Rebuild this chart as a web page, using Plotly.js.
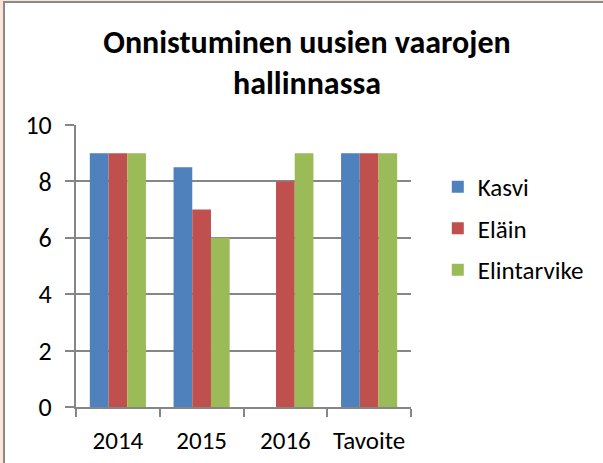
<!DOCTYPE html>
<html>
<head>
<meta charset="utf-8">
<script src="https://cdn.plot.ly/plotly-3.0.1.min.js"></script>
<style>
  html, body { margin: 0; padding: 0; background: #fce4d6; width: 603px; height: 463px; overflow: hidden; }
  #chart { position: absolute; left: 3px; top: 1px; width: 598px; height: 460px;
           border-left: 2px solid #8a8a8a; border-top: 2px solid #8a8a8a; background: #fff; }
</style>
</head>
<body>
<div id="chart"></div>
<script>
const categories = ["2014", "2015", "2016", "Tavoite"];
const kasvi = [9, 8.5, null, 9];
const elain = [9, 7, 8, 9];
const elintarvike = [9, 6, 9, 9];
const seriesNames = ["Kasvi", "Eläin", "Elintarvike"];
const colors = ["#4F81BD", "#C0504D", "#9BBB59"];
const yTicks = [0, 2, 4, 6, 8, 10];

const FONT = "Carlito, Lato, 'Open Sans', sans-serif";
const seriesData = [kasvi, elain, elintarvike];
const traces = seriesData.map((vals, i) => ({
  type: "bar",
  name: seriesNames[i],
  x: categories,
  y: vals,
  legendgroup: "g" + i,
  marker: { color: colors[i], line: { width: 0 } }
}));

const layout = {
  width: 598, height: 460,
  margin: { l: 71, r: 192, t: 122, b: 56 },
  paper_bgcolor: "#ffffff",
  plot_bgcolor: "#ffffff",
  barmode: "group",
  bargap: 0.33,
  bargroupgap: 0,
  font: { family: FONT, size: 25, color: "#000" },
  title: {
    text: "<b>Onnistuminen uusien vaarojen<br>hallinnassa</b>",
    font: { family: FONT, size: 32, color: "#000" },
    x: 0.505, xanchor: "center",
    y: 0.892, yref: "container", yanchor: "middle"
  },
  xaxis: {
    type: "category",
    showline: true, linecolor: "#868686", linewidth: 2,
    ticks: "outside", tickson: "boundaries", ticklen: 8, tickwidth: 2, tickcolor: "#868686",
    showgrid: false,
    ticklabelstandoff: 10,
    tickfont: { family: FONT, size: 25, color: "#000" },
    zeroline: false
  },
  yaxis: {
    range: [0, 10],
    tickvals: yTicks,
    showline: true, linecolor: "#868686", linewidth: 2,
    ticks: "outside", ticklen: 9, tickwidth: 2, tickcolor: "#868686",
    showgrid: true, gridcolor: "#868686", gridwidth: 2,
    zeroline: false,
    ticklabelstandoff: 8,
    tickfont: { family: FONT, size: 26, color: "#000" }
  },
  showlegend: true,
  legend: {
    x: 1.08, xanchor: "left",
    y: 0.862, yanchor: "top",
    traceorder: "grouped",
    tracegroupgap: 6,
    font: { family: FONT, size: 25, color: "#000" },
    itemwidth: 30,
    bgcolor: "rgba(0,0,0,0)"
  }
};

Plotly.newPlot("chart", traces, layout, { displayModeBar: false, staticPlot: true });
</script>
</body>
</html>
